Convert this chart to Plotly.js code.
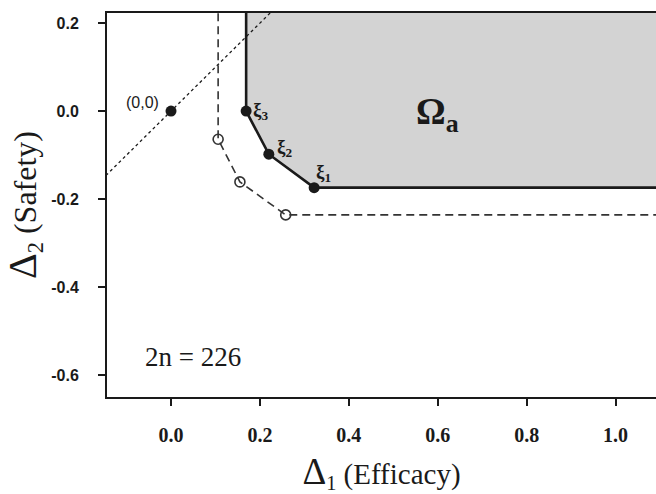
<!DOCTYPE html>
<html>
<head>
<meta charset="utf-8">
<script src="https://cdn.plot.ly/plotly-3.0.1.min.js"></script>
<style>html,body{margin:0;padding:0;background:#fff;}#chart{width:656px;height:494px;}</style>
</head>
<body>
<div id="chart"></div>
<script>
// Acceptance region Omega_a boundary (solid) through xi points
const regionX = [0.169, 0.169, 0.220, 0.322, 1.3, 1.3];
const regionY = [0.4, 0.0, -0.098, -0.174, -0.174, 0.4];
const boundaryX = [0.169, 0.169, 0.220, 0.322, 1.3];
const boundaryY = [0.4, 0.0, -0.098, -0.174, -0.174];
const xiX = [0.322, 0.220, 0.169];
const xiY = [-0.174, -0.098, 0.0];
const xiLabels = ['ξ<sub>1</sub>', 'ξ<sub>2</sub>', 'ξ<sub>3</sub>'];
// Dashed boundary with open circles
const dashX = [0.106, 0.106, 0.155, 0.258, 1.3];
const dashY = [0.4, -0.064, -0.161, -0.236, -0.236];
const circX = [0.106, 0.155, 0.258];
const circY = [-0.064, -0.161, -0.236];
// Dotted diagonal through origin
const diagX = [-0.3, 0.4];
const diagY = [-0.3, 0.4];
const originX = [0];
const originY = [0];
// Axis ticks
const xTicks = [0.0, 0.2, 0.4, 0.6, 0.8, 1.0];
const xTickText = ['0.0', '0.2', '0.4', '0.6', '0.8', '1.0'];
const yTicks = [-0.6, -0.4, -0.2, 0.0, 0.2];
const yTickText = ['-0.6', '-0.4', '-0.2', '0.0', '0.2'];

const serif = 'Liberation Serif, Times New Roman, serif';
const sans = 'Liberation Sans, Arial, sans-serif';
const ink = '#1a1a1a';

const traces = [
  {x: regionX, y: regionY, mode: 'lines', fill: 'toself', fillcolor: '#d3d3d3',
   line: {width: 0}, hoverinfo: 'skip', showlegend: false},
  {x: boundaryX, y: boundaryY, mode: 'lines', line: {color: ink, width: 2.6},
   showlegend: false},
  {x: diagX, y: diagY, mode: 'lines', line: {color: ink, width: 1.3, dash: 'dot'},
   showlegend: false},
  {x: dashX, y: dashY, mode: 'lines', line: {color: '#333', width: 1.6, dash: '8px,5px'},
   showlegend: false},
  {x: circX, y: circY, mode: 'markers',
   marker: {size: 10, color: 'rgba(255,255,255,0)', line: {color: '#333', width: 1.6}},
   showlegend: false},
  {x: xiX, y: xiY, mode: 'markers', marker: {size: 11, color: ink}, showlegend: false},
  {x: originX, y: originY, mode: 'markers', marker: {size: 11, color: ink}, showlegend: false}
];

const annotations = [
  {x: originX[0], y: originY[0], text: '(0,0)', showarrow: false, xanchor: 'center',
   xshift: -29, yshift: 9, font: {family: sans, size: 16, color: ink}},
  {x: xiX[0], y: xiY[0], text: '<b>' + xiLabels[0] + '</b>', showarrow: false, xanchor: 'left',
   xshift: 0, yshift: 15, font: {family: serif, size: 19, color: ink}},
  {x: xiX[1], y: xiY[1], text: '<b>' + xiLabels[1] + '</b>', showarrow: false, xanchor: 'left',
   xshift: 6, yshift: 6, font: {family: serif, size: 19, color: ink}},
  {x: xiX[2], y: xiY[2], text: '<b>' + xiLabels[2] + '</b>', showarrow: false, xanchor: 'left',
   xshift: 5, yshift: 0, font: {family: serif, size: 19, color: ink}},
  {x: 0.6, y: 0.0, text: '<b>Ω<sub>a</sub></b>', showarrow: false, xanchor: 'center',
   xshift: 0, yshift: -3, font: {family: serif, size: 37, color: ink}},
  {x: 0.05, y: -0.56, text: '2n = 226', showarrow: false, xanchor: 'center',
   font: {family: serif, size: 27, color: ink}}
];

const layout = {
  width: 656, height: 494,
  margin: {l: 107, r: 0, t: 13, b: 97},
  paper_bgcolor: '#fff', plot_bgcolor: '#fff',
  showlegend: false,
  xaxis: {
    range: [-0.144, 1.091], tickvals: xTicks, ticktext: xTickText,
    showgrid: false, zeroline: false,
    showline: true, linecolor: ink, linewidth: 2, mirror: true,
    ticks: 'outside', ticklen: 7, tickwidth: 2, tickcolor: ink,
    ticklabelstandoff: 12,
    tickfont: {family: serif, size: 20, color: ink, weight: 'bold'},
    title: {text: '<span style="font-size:37px">Δ</span><sub>1</sub> (Efficacy)',
            font: {family: serif, size: 29, color: ink}, standoff: 25}
  },
  yaxis: {
    range: [-0.65, 0.223], tickvals: yTicks, ticktext: yTickText,
    showgrid: false, zeroline: false,
    showline: true, linecolor: ink, linewidth: 2, mirror: false,
    ticks: 'outside', ticklen: 7, tickwidth: 2, tickcolor: ink,
    ticklabelstandoff: 16,
    tickfont: {family: sans, size: 16, color: ink, weight: 'bold'},
    title: {text: '<span style="font-size:40px">Δ</span><sub>2</sub> (Safety)',
            font: {family: serif, size: 32, color: ink}, standoff: 12}
  },
  annotations: annotations
};

Plotly.newPlot('chart', traces, layout, {staticPlot: true, displayModeBar: false});
</script>
</body>
</html>
